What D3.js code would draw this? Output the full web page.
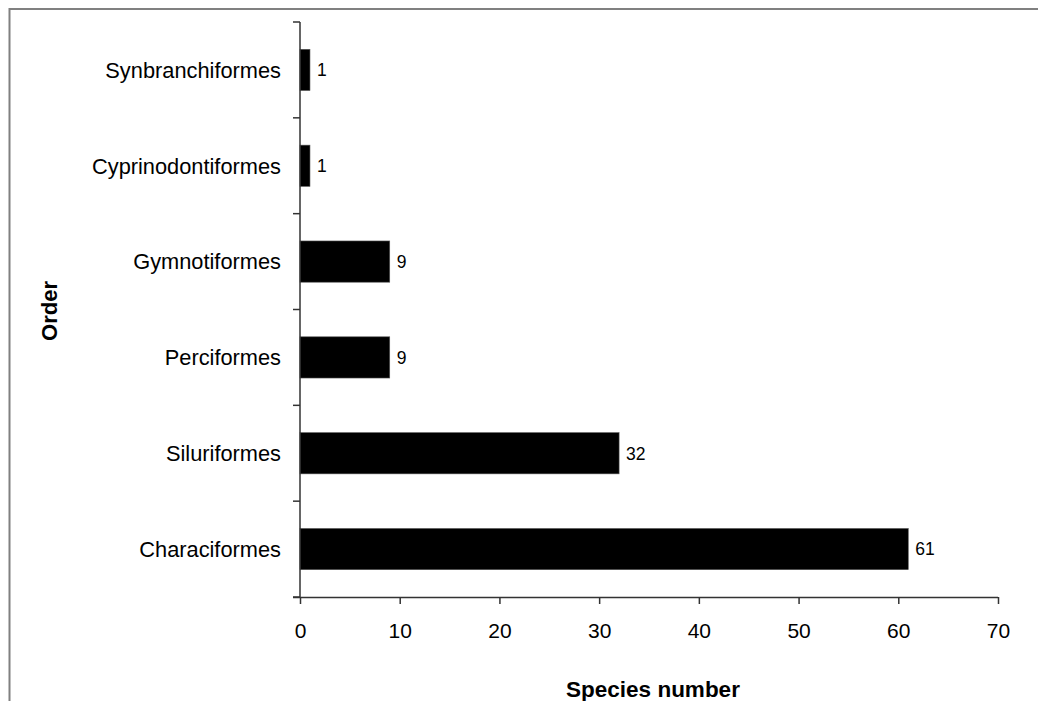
<!DOCTYPE html>
<html>
<head>
<meta charset="utf-8">
<script src="https://cdn.jsdelivr.net/npm/d3@7"></script>
<style>
  html, body { margin: 0; padding: 0; background: #fff; }
  svg { display: block; font-family: "Liberation Sans", Arial, sans-serif; }
</style>
</head>
<body>
<svg id="chart" width="1038" height="701"></svg>
<script>
const categories = ["Characiformes", "Siluriformes", "Perciformes", "Gymnotiformes", "Cyprinodontiformes", "Synbranchiformes"];
const values = [61, 32, 9, 9, 1, 1];
const xTicks = [0, 10, 20, 30, 40, 50, 60, 70];
const xTitle = "Species number";
const yTitle = "Order";

const svg = d3.select("#chart");
const W = 1038, H = 701;
const mLeft = 300, mRight = 998, mTop = 22, mBottom = 597;

// outer frame (extends beyond right/bottom edges)
svg.append("rect").attr("x", 9.5).attr("y", 9).attr("width", W + 20).attr("height", H + 20)
  .attr("fill", "none").attr("stroke", "#808080").attr("stroke-width", 2);

const x = d3.scaleLinear().domain([0, 70]).range([mLeft, mRight]);
const y = d3.scaleBand().domain(categories).range([mBottom, mTop]).paddingInner(0.57).paddingOuter(0.285);
const yb = d3.scaleBand().domain(categories).range([mBottom, mTop]);

// bars
svg.append("g").selectAll("rect").data(categories).join("rect")
  .attr("x", x(0))
  .attr("y", d => y(d))
  .attr("width", (d, i) => x(values[i]) - x(0))
  .attr("height", y.bandwidth())
  .attr("fill", "#000")
  .attr("stroke", "#555").attr("stroke-width", 0.6);

// value labels
svg.append("g").selectAll("text").data(categories).join("text")
  .attr("x", (d, i) => x(values[i]) + 7)
  .attr("y", d => y(d) + y.bandwidth() / 2)
  .attr("dy", "0.36em")
  .attr("font-size", "17.5px")
  .attr("fill", "#000")
  .text((d, i) => values[i]);

// x axis
const xAxis = d3.axisBottom(x).tickValues(xTicks).tickSize(7).tickPadding(19).tickSizeOuter(0);
const gx = svg.append("g").attr("transform", `translate(0,${mBottom})`).call(xAxis);
gx.select(".domain").attr("stroke", "#333").attr("stroke-width", 1.5).attr("d", `M${mLeft - 7},0.5H${mRight}`);
gx.selectAll(".tick line").attr("stroke", "#333").attr("stroke-width", 1.5);
gx.selectAll(".tick text").attr("font-size", "21px").attr("fill", "#000").attr("font-family", "Liberation Sans, Arial, sans-serif");

// y axis line
svg.append("line").attr("x1", mLeft).attr("x2", mLeft).attr("y1", mTop).attr("y2", mBottom)
  .attr("stroke", "#333").attr("stroke-width", 1.5);
// y ticks at band boundaries
const bounds = categories.map(c => yb(c)).concat([yb(categories[0]) + yb.bandwidth()]);
svg.append("g").selectAll("line").data(bounds).join("line")
  .attr("x1", mLeft - 7).attr("x2", mLeft).attr("y1", d => d).attr("y2", d => d)
  .attr("stroke", "#333").attr("stroke-width", 1.5);

// category labels
svg.append("g").selectAll("text").data(categories).join("text")
  .attr("x", mLeft - 19)
  .attr("y", d => yb(d) + yb.bandwidth() / 2)
  .attr("dy", "0.36em")
  .attr("text-anchor", "end")
  .attr("font-size", "21.8px")
  .attr("fill", "#000")
  .text(d => d);

// axis titles
svg.append("text").attr("x", 653).attr("y", 697)
  .attr("text-anchor", "middle").attr("font-weight", "bold").attr("font-size", "22.5px")
  .text(xTitle);
svg.append("text").attr("transform", "translate(57,311) rotate(-90)")
  .attr("text-anchor", "middle").attr("font-weight", "bold").attr("font-size", "22px")
  .text(yTitle);
</script>
</body>
</html>
